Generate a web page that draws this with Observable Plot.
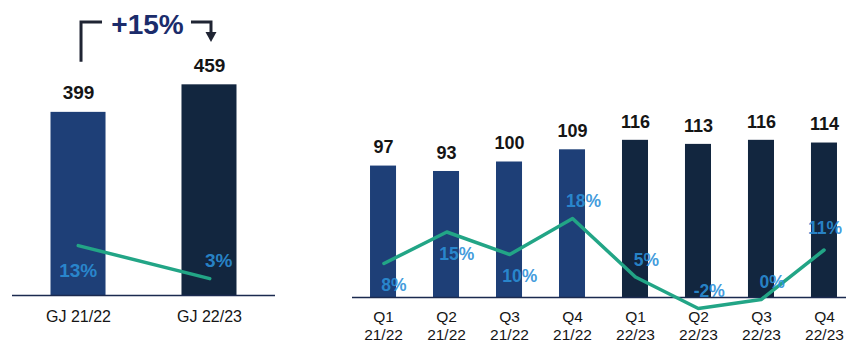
<!DOCTYPE html>
<html><head><meta charset="utf-8">
<script src="https://cdn.jsdelivr.net/npm/d3@7"></script>
<script src="https://cdn.jsdelivr.net/npm/@observablehq/plot@0.6"></script>
<style>
body{margin:0;background:#fff;font-family:"Liberation Sans",Arial,sans-serif;}
#chart{position:relative;width:846px;height:342px;overflow:hidden;background:#fff;}
.layer{position:absolute;top:0;}
.layer svg{background:transparent !important;}
</style></head><body><div id="chart"></div>
<script>
// ---- data ----
const yearCats = ["GJ 21/22", "GJ 22/23"];
const yearFY = ["21/22", "22/23"];
const yearRevenue = [399, 459];
const yearGrowth = [13, 3];

const quarterCats = ["Q1 21/22","Q2 21/22","Q3 21/22","Q4 21/22","Q1 22/23","Q2 22/23","Q3 22/23","Q4 22/23"];
const quarterFY = ["21/22","21/22","21/22","21/22","22/23","22/23","22/23","22/23"];
const quarterRevenue = [97, 93, 100, 109, 116, 113, 116, 114];
const quarterGrowth = [8, 15, 10, 18, 5, -2, 0, 11];

const fiscalYears = ["21/22", "22/23"];

// ---- style ----
const FONT = '"Liberation Sans", Arial, sans-serif';
const barColors = ["#1e3f77", "#12263f"];
const lineColor = "#22a586";
const pctColor = "#2b8fd8";
const axisColor = "#1b2a4f";

const yearData = yearCats.map((c, i) => ({cat: c, fy: yearFY[i], value: yearRevenue[i], growth: yearGrowth[i], i}));
const quarterData = quarterCats.map((c, i) => ({cat: c, fy: quarterFY[i], value: quarterRevenue[i], growth: quarterGrowth[i], i}));

const chart = document.getElementById("chart");
function addLayer(node, left) {
  const d = document.createElement("div");
  d.className = "layer";
  d.style.left = left + "px";
  d.appendChild(node);
  chart.appendChild(d);
  return node;
}

// ---------- Left panel: fiscal years ----------
const leftCommon = {
  width: 290, height: 342, marginLeft: 12, marginRight: 15, marginTop: 0, marginBottom: 0,
  style: {fontFamily: FONT, background: "transparent", overflow: "visible"}
};
const leftX = {domain: yearCats, range: [12, 275], round: false, paddingInner: 0.58, paddingOuter: 0.294, axis: null};

const leftBars = Plot.plot({
  ...leftCommon,
  x: leftX,
  y: {domain: [0, 600], range: [295, 19.6], axis: null},
  color: {domain: fiscalYears, range: barColors},
  marks: [
    Plot.barY(yearData, {x: "cat", y: "value", fill: "fy"}),
    Plot.ruleY([0], {stroke: axisColor, strokeWidth: 1.5}),
    Plot.text(yearData, {x: "cat", y: "value", text: d => String(d.value), dy: -19, fontSize: 19, fontWeight: "bold", fill: "#151515"}),
    Plot.text(yearData, {x: "cat", y: 0, text: "cat", dy: 21, fontSize: 16, fill: "#151515"})
  ]
});
addLayer(leftBars, 0);

// bracket annotation "+15%", placed through the plot's scales
{
  const sx = leftBars.scale("x"), sy = leftBars.scale("y");
  const bw = sx.bandwidth || 0;
  const c1 = sx.apply(yearCats[0]) + bw / 2;
  const c2 = sx.apply(yearCats[1]) + bw / 2;
  const yTop = sy.apply(595), yLeg = sy.apply(508), yTip = sy.apply(551);
  const svg = d3.select(leftBars);
  const g = svg.append("g").attr("fill", "none").attr("stroke", "#1f2433").attr("stroke-width", 3);
  g.append("path").attr("d", `M${c1 + 3},${yLeg}V${yTop}H${c1 + 24}`);
  g.append("path").attr("d", `M${c2 - 18},${yTop}H${c2 + 2}V${yTip - 9}`);
  svg.append("path").attr("d", `M${c2 - 3.5},${yTip - 10}H${c2 + 7.5}L${c2 + 2},${yTip}Z`).attr("fill", "#1f2433");
  const pct = Math.round((yearRevenue[1] / yearRevenue[0] - 1) * 100);
  svg.append("text")
    .attr("x", (c1 + 24 + c2 - 18) / 2 + 1)
    .attr("y", yTop + 3)
    .attr("text-anchor", "middle")
    .attr("dominant-baseline", "central")
    .attr("font-family", FONT).attr("font-weight", "bold").attr("font-size", 28)
    .attr("fill", "#1b2c6b")
    .text(`+${pct}%`);
}

const leftLine = Plot.plot({
  ...leftCommon,
  x: leftX,
  y: {domain: [0, 20], range: [288, 222], axis: null},
  marks: [
    Plot.line(yearData, {x: "cat", y: "growth", stroke: lineColor, strokeWidth: 3.5}),
    Plot.text(yearData.filter(d => d.i === 0), {x: "cat", y: "growth", text: d => d.growth + "%", dy: 25, fontSize: 19, fontWeight: "bold", fill: pctColor, fillOpacity: 0.9}),
    Plot.text(yearData.filter(d => d.i > 0), {x: "cat", y: "growth", text: d => d.growth + "%", dx: 9, dy: -18, fontSize: 19, fontWeight: "bold", fill: pctColor, fillOpacity: 0.9})
  ]
});
addLayer(leftLine, 0);

// ---------- Right panel: quarters ----------
const rightCommon = {
  width: 516, height: 342, marginLeft: 22, marginRight: 0, marginTop: 0, marginBottom: 0,
  style: {fontFamily: FONT, background: "transparent", overflow: "visible"}
};
const rightX = {domain: quarterCats, range: [22, 525], round: false, paddingInner: 0.587, paddingOuter: 0.286, axis: null};

const rightBars = Plot.plot({
  ...rightCommon,
  x: rightX,
  y: {domain: [0, 120], range: [297, 134.4], axis: null},
  color: {domain: fiscalYears, range: barColors},
  marks: [
    Plot.barY(quarterData, {x: "cat", y: "value", fill: "fy"}),
    Plot.ruleY([0], {stroke: axisColor, strokeWidth: 1.5}),
    Plot.text(quarterData, {x: "cat", y: "value", text: d => String(d.value), dy: -18.5, fontSize: 18, fontWeight: "bold", fill: "#151515"}),
    Plot.text(quarterData, {x: "cat", y: 0, text: d => d.cat.replace(" ", "\n"), dy: 27.5, lineHeight: 1.2, fontSize: 15.5, fill: "#151515"})
  ]
});
addLayer(rightBars, 330);

const lastQ = quarterData.length - 1;
const pctStyle = {x: "cat", y: "growth", text: d => d.growth + "%", fontSize: 17.5, fontWeight: "bold", fill: pctColor, fillOpacity: 0.9};
const rightLine = Plot.plot({
  ...rightCommon,
  x: rightX,
  y: {domain: [-5, 20], range: [321.5, 209], axis: null},
  marks: [
    Plot.line(quarterData, {x: "cat", y: "growth", stroke: lineColor, strokeWidth: 3.5}),
    Plot.text(quarterData.filter(d => d.i < 3), {...pctStyle, dx: 10, dy: 22}),
    Plot.text(quarterData.filter(d => d.i >= 3 && d.i < lastQ), {...pctStyle, dx: 11, dy: -17}),
    Plot.text(quarterData.filter(d => d.i === lastQ), {...pctStyle, dx: 1, dy: -22})
  ]
});
addLayer(rightLine, 330);
</script>
</body></html>
